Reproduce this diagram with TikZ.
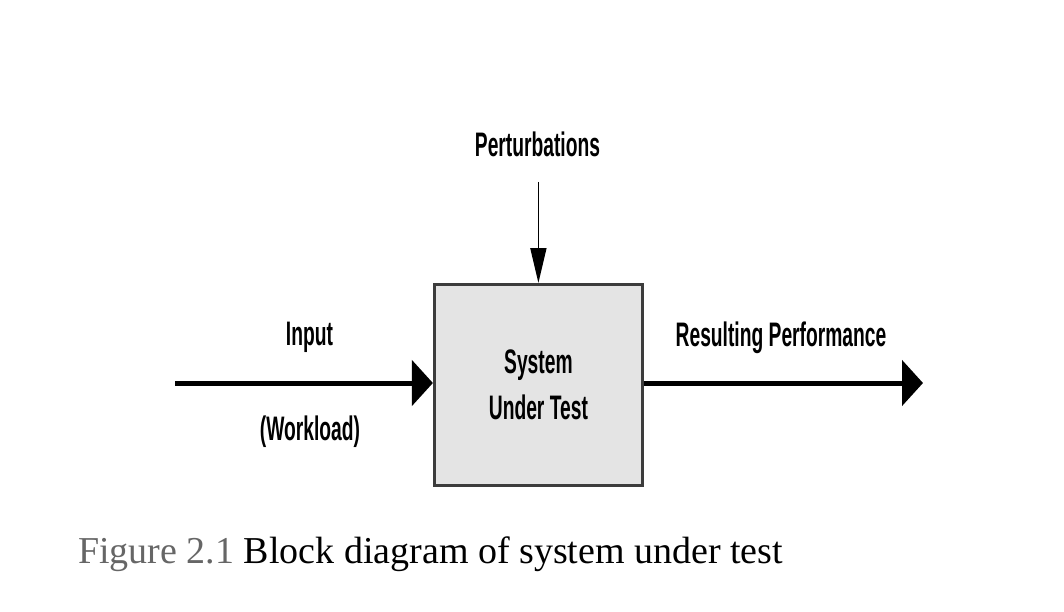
\documentclass[tikz,border=0pt]{standalone}
\usepackage{fontspec}
\usepackage{graphicx}
\setmainfont{Liberation Serif}
\newfontfamily\diagfont{Liberation Sans}
\usetikzlibrary{arrows.meta}
\definecolor{boxfill}{HTML}{E4E4E4}
\definecolor{boxline}{HTML}{3C3C3C}
\definecolor{figgray}{HTML}{666666}
\newcommand{\narrow}[1]{\scalebox{0.566}[1]{#1}}
\begin{document}
\begin{tikzpicture}[x=1pt,y=-1pt,
  signal/.style={font={\diagfont\bfseries\fontsize{34}{46}\selectfont},inner sep=0pt,anchor=base},
  block/.style={draw=boxline,fill=boxfill,line width=3pt,minimum width=208pt,minimum height=201pt,
    inner sep=0pt,align=center,font={\diagfont\bfseries\fontsize{34}{46}\selectfont}},
  flow/.style={line width=5pt,-{Triangle[length=21pt,width=45pt]}},
  disturb/.style={line width=1.7pt,-{Triangle[length=35pt,width=16pt]}}]
  \useasboundingbox (0,0) rectangle (1064,612);
  \node[block] (sut) at (538.4,385) {\narrow{System}\\\narrow{Under Test}};
  \coordinate (instart) at (175,383);
  \coordinate (outend) at (923,383);
  \coordinate (pertstart) at (538.4,182);
  \node[signal] (pert) at (537.5,157) {\narrow{Perturbations}};
  \node[signal] (input) at (309.5,345) {\narrow{Input}};
  \node[signal] (workload) at (310,440) {\narrow{(Workload)}};
  \node[signal] (result) at (781,346) {\narrow{Resulting Performance}};
  \draw[flow] (instart) -- (instart -| sut.west);
  \draw[flow] (outend -| sut.east) -- (outend);
  \draw[disturb] (pertstart) -- (sut.north);
  \node[anchor=base west,inner sep=0pt,font=\fontsize{38}{46}\selectfont] (caption) at (78,563)
    {\textcolor{figgray}{Figure 2.1} Block diagram of system under test};
\end{tikzpicture}
\end{document}
